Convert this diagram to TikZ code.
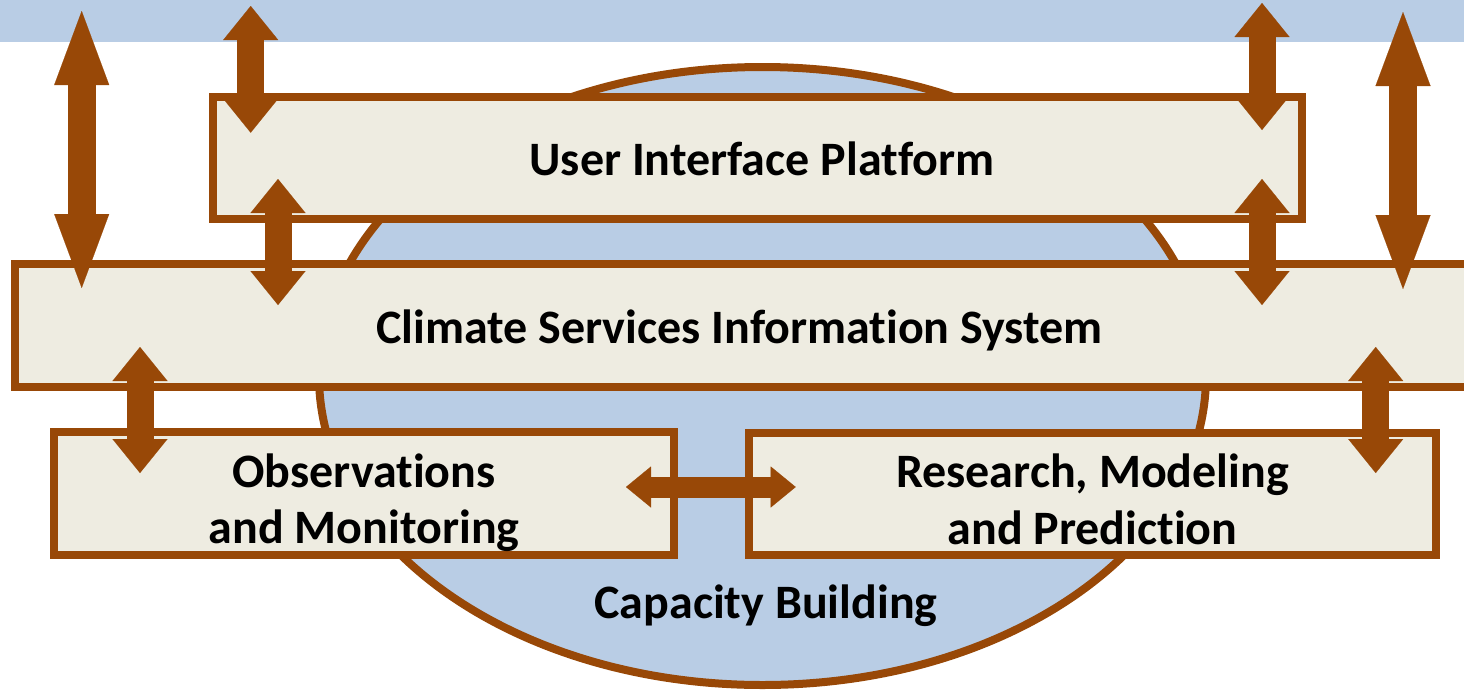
\documentclass[tikz,border=0pt]{standalone}
\usepackage{fontspec}
\setmainfont{Carlito}[Ligatures=NoCommon]
\usetikzlibrary{arrows.meta,shapes.geometric}
\definecolor{rust}{HTML}{984807}
\definecolor{paper}{HTML}{EEECE1}
\definecolor{sky}{HTML}{B9CDE5}
\tikzset{
  panel/.style={draw=rust, line width=8pt, fill=paper, rectangle, inner sep=0pt, outer sep=0pt},
  lbl/.style={font=\bfseries\fontsize{48}{56}\selectfont, anchor=base, inner sep=0pt},
  longlink/.style={draw=rust, line width=28pt,
    {Triangle[width=55pt,length=74pt,line width=0.1pt]}-{Triangle[width=55pt,length=74pt,line width=0.1pt]}},
  shortlink/.style={draw=rust, line width=27pt,
    {Triangle[width=55pt,length=34pt,line width=0.1pt]}-{Triangle[width=55pt,length=34pt,line width=0.1pt]}},
  sidelink/.style={draw=rust, line width=21pt,
    {Triangle[width=41pt,length=25pt,line width=0.1pt]}-{Triangle[width=41pt,length=25pt,line width=0.1pt]}},
}
\begin{document}
\begin{tikzpicture}[x=1pt,y=-1pt]
\useasboundingbox (0,0) rectangle (1464,689);
\clip (0,0) rectangle (1464,689);

% strip along the top and the capacity-building disc behind everything
\node[fill=sky, inner sep=0pt, minimum width=1464pt, minimum height=41.5pt, anchor=north west] (band) at (0,0) {};
\node[ellipse, draw=rust, line width=8pt, fill=sky, inner sep=0pt,
      minimum width=887pt, minimum height=618pt] (capacity) at (762.5,376) {};

% the four layers
\node[panel, minimum width=1088.7pt, minimum height=122pt] (uip) at (757.4,158) {};
\node[panel, minimum width=1459pt, minimum height=122.7pt] (csis) at (744.5,325.35) {};
\node[panel, minimum width=620pt, minimum height=122.7pt] (obs) at (364,493.35) {};
\node[panel, minimum width=687.3pt, minimum height=122pt] (rmp) at (1092.35,494) {};

% labels
\node[lbl] (uiptext) at (762,175) {User Interface Platform};
\node[lbl] (csistext) at (739.5,343.3) {Climate Services Information System};
\node[lbl] (obstext1) at (364,487) {Observations};
\node[lbl] (obstext2) at (364,543) {and Monitoring};
\node[lbl] (rmptext1) at (1092.5,487) {Research, Modeling};
\node[lbl] (rmptext2) at (1092.5,544) {and Prediction};
\node[lbl] (captext) at (766,618) {Capacity Building};

% end points of the two-way links
\coordinate (l1a) at (81.7,11);    \coordinate (l1b) at (81.7,288);
\coordinate (l2a) at (250.7,6);    \coordinate (l2b) at (250.7,132.7);
\coordinate (l3a) at (278,179);    \coordinate (l3b) at (278,305);
\coordinate (l4a) at (1262,3);     \coordinate (l4b) at (1262,130);
\coordinate (l5a) at (1262,179);   \coordinate (l5b) at (1262,305);
\coordinate (l6a) at (1403,12);    \coordinate (l6b) at (1403,289);
\coordinate (l7a) at (140,347);    \coordinate (l7b) at (140,473);
\coordinate (l8a) at (1375.7,347); \coordinate (l8b) at (1375.7,473);
\coordinate (l9a) at (626,487);    \coordinate (l9b) at (795.7,487);

\draw[longlink] (l1a) -- (l1b);
\draw[shortlink] (l2a) -- (l2b);
\draw[shortlink] (l3a) -- (l3b);
\draw[shortlink] (l4a) -- (l4b);
\draw[shortlink] (l5a) -- (l5b);
\draw[longlink] (l6a) -- (l6b);
\draw[shortlink] (l7a) -- (l7b);
\draw[shortlink] (l8a) -- (l8b);
\draw[sidelink] (l9a) -- (l9b);
\end{tikzpicture}
\end{document}
